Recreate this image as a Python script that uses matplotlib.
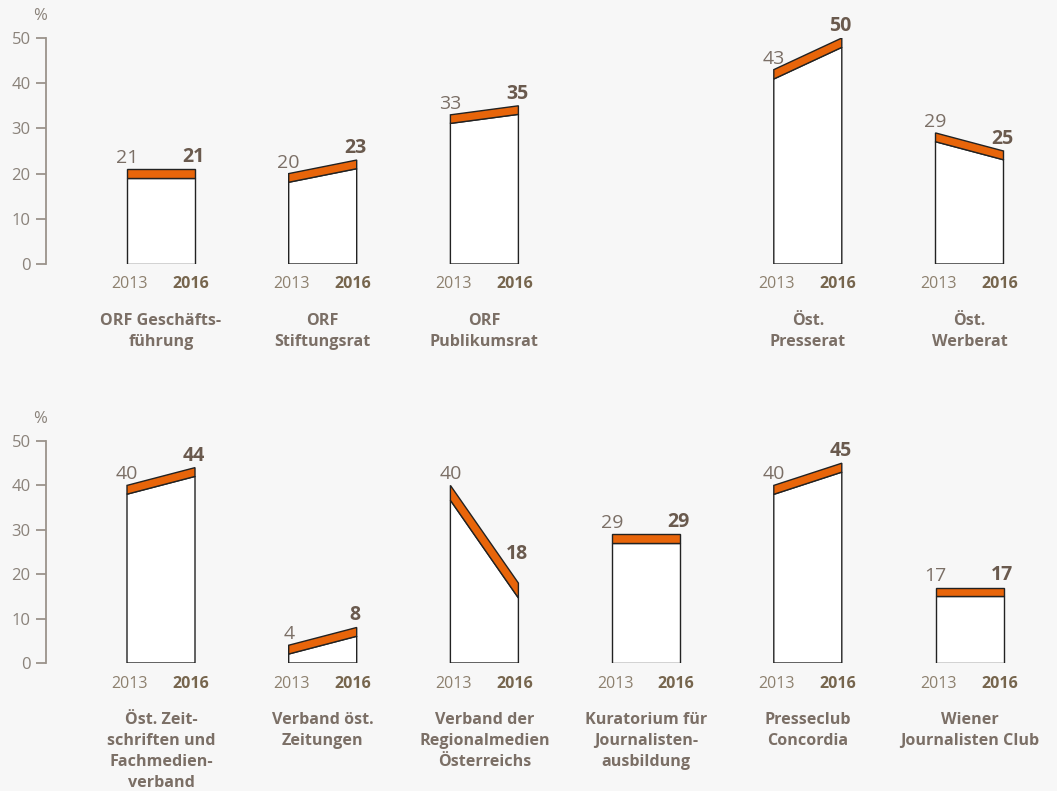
import numpy as np
import matplotlib.pyplot as plt
from matplotlib.patches import Polygon

plt.rcParams['font.family'] = ['Open Sans', 'DejaVu Sans']

# data (percent women, 2013 vs 2016)
top_names = ["ORF Geschäfts-\nführung", "ORF\nStiftungsrat", "ORF\nPublikumsrat",
             "Öst.\nPresserat", "Öst.\nWerberat"]
top_slots = [0, 1, 2, 4, 5]
top_2013 = [21, 20, 33, 43, 29]
top_2016 = [21, 23, 35, 50, 25]

bot_names = ["Öst. Zeit-\nschriften und\nFachmedien-\nverband", "Verband öst.\nZeitungen",
             "Verband der\nRegionalmedien\nÖsterreichs", "Kuratorium für\nJournalisten-\nausbildung",
             "Presseclub\nConcordia", "Wiener\nJournalisten Club"]
bot_slots = [0, 1, 2, 3, 4, 5]
bot_2013 = [40, 4, 40, 29, 40, 17]
bot_2016 = [44, 8, 18, 29, 45, 17]

years = ["2013", "2016"]
yticks = [0, 10, 20, 30, 40, 50]

BG = "#f7f7f7"
ORANGE = "#e8650a"
AXC = "#9b938b"
TXT = "#7b6f66"
BOLDTXT = "#6a5a4e"
YR = "#8d806e"
YRB = "#76654d"

W, H = 1057, 791
fig = plt.figure(figsize=(W / 100, H / 100), dpi=100, facecolor=BG)

x_first, step, bw = 127, 161.7, 68
band_px = 8.5


def draw_row(y0px, y50px, names, slots, v13, v16):
    ax = fig.add_axes([46 / W, (H - y0px) / H, 1 - 46 / W, (y0px - y50px) / H])
    ax.set_facecolor(BG)
    ax.set_xlim(46, W)
    ax.set_ylim(0, 50)
    for s in ["top", "right", "bottom"]:
        ax.spines[s].set_visible(False)
    ax.spines["left"].set_color(AXC)
    ax.spines["left"].set_linewidth(1.3)
    ax.set_xticks([])
    ax.set_yticks(yticks)
    ax.tick_params(axis="y", colors=AXC, labelcolor="#8a827a", length=7, width=1.3,
                   labelsize=12, pad=4)
    ax.annotate("%", (46 - 6, 50), xytext=(0, 10), textcoords="offset points",
                ha="center", va="bottom", color="#8a827a", fontsize=12,
                annotation_clip=False)
    ppu = (y0px - y50px) / 50.0  # pixels per percent
    for name, slot, a, b in zip(names, slots, v13, v16):
        x0 = x_first + slot * step
        x1 = x0 + bw
        slope = (b - a) * ppu / bw
        t = band_px * np.sqrt(1 + slope ** 2) / ppu
        white = Polygon([(x0, 0), (x0, a - t), (x1, b - t), (x1, 0)], closed=True,
                        facecolor="white", edgecolor="#222222", lw=1.0, zorder=2)
        band = Polygon([(x0, a - t), (x0, a), (x1, b), (x1, b - t)], closed=True,
                       facecolor=ORANGE, edgecolor="#222222", lw=1.0, zorder=3)
        ax.add_patch(white)
        ax.add_patch(band)
        ax.annotate(str(a), (x0, a), xytext=(0, 1.5), textcoords="offset points",
                    ha="center", va="bottom", color=TXT, fontsize=14)
        lift = 14 if a - b > 10 else 1.5
        ax.annotate(str(b), (x1, b), xytext=(-1, lift), textcoords="offset points",
                    ha="center", va="bottom", color=BOLDTXT, fontsize=14, fontweight="bold")
        ax.annotate(years[0], (x0 + 3, 0), xytext=(0, -9), textcoords="offset points",
                    ha="center", va="top", color=YR, fontsize=11.5, annotation_clip=False)
        ax.annotate(years[1], (x1 - 4, 0), xytext=(0, -9), textcoords="offset points",
                    ha="center", va="top", color=YRB, fontsize=11.5, fontweight="bold",
                    annotation_clip=False)
        ax.annotate(name, ((x0 + x1) / 2, 0), xytext=(0, -35), textcoords="offset points",
                    ha="center", va="top", color=TXT, fontsize=11.6, fontweight="bold",
                    linespacing=1.42, annotation_clip=False)
    return ax


draw_row(264, 38, top_names, top_slots, top_2013, top_2016)
draw_row(663, 441, bot_names, bot_slots, bot_2013, bot_2016)

fig.savefig("out.png", dpi=100, facecolor=BG)
